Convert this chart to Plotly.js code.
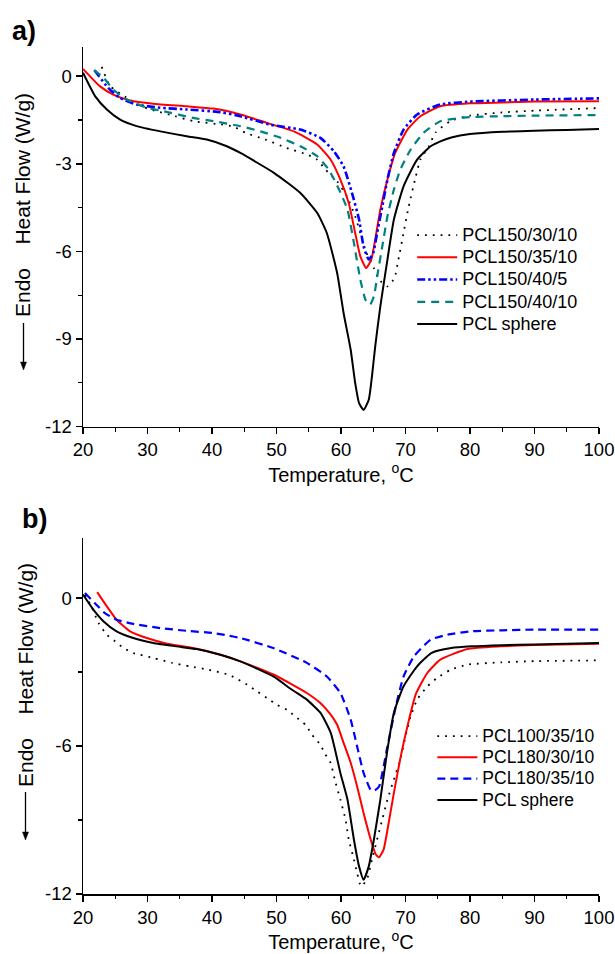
<!DOCTYPE html>
<html>
<head>
<meta charset="utf-8">
<script src="https://cdn.plot.ly/plotly-3.0.1.min.js"></script>
<style>
html,body{margin:0;padding:0;background:#fff;}
#chart{width:615px;height:954px;}
</style>
</head>
<body>
<div id="chart"></div>
<script>
// ---------- Panel a data ----------
const aNames = ['PCL150/30/10', 'PCL150/35/10', 'PCL150/40/5', 'PCL150/40/10', 'PCL sphere'];

const a1_x = [22.9, 24.2, 26.5, 29.5, 31.4, 34.3, 37.1, 41.7, 43.3, 45.2, 48.3, 51.6, 54.7, 56.3, 57.6, 58.6, 59.4, 60.9, 62.2, 63.3, 63.9, 65.1, 65.9, 67.2, 68.3, 68.9, 69.7, 70.5, 71.6, 72.3, 73.6, 74.7, 77.1, 80, 85, 90, 100];
const a1_y = [0.32, -0.34, -0.7, -1.07, -1.2, -1.37, -1.54, -1.66, -1.72, -1.94, -2.17, -2.46, -2.68, -2.86, -3.2, -3.43, -3.6, -4.11, -4.8, -5.6, -6.03, -6.57, -6.97, -7.2, -6.91, -6.28, -5.36, -4.46, -3.43, -2.86, -2.4, -1.92, -1.52, -1.35, -1.24, -1.18, -1.09];

const a2_x = [20, 22.6, 24.7, 27.3, 30.9, 36.1, 40.2, 44.4, 48.5, 52.7, 56.3, 58.4, 59.9, 61.2, 62.2, 63, 63.9, 64.7, 65.3, 66.1, 67.2, 68.4, 70.3, 72.3, 75.4, 80, 85, 90, 100];
const a2_y = [0.25, -0.34, -0.63, -0.83, -0.94, -1.03, -1.11, -1.31, -1.6, -1.89, -2.34, -2.86, -3.54, -4.34, -5.37, -6.17, -6.57, -6.28, -5.6, -4.57, -3.54, -2.63, -1.83, -1.37, -1.03, -0.93, -0.9, -0.87, -0.86];

const a3_x = [21.8, 23.9, 25.7, 28.3, 32, 36.1, 41.3, 44.4, 49, 53.7, 56.8, 58.9, 60.4, 61.7, 62.8, 63.5, 64.3, 65, 65.6, 66.4, 67.2, 68.2, 69.7, 71.8, 75.4, 80, 90, 100];
const a3_y = [0.2, -0.4, -0.74, -0.97, -1.08, -1.14, -1.23, -1.37, -1.66, -1.83, -2.11, -2.57, -3.09, -4.0, -4.91, -5.83, -6.28, -6.05, -5.37, -4.46, -3.54, -2.63, -1.83, -1.31, -0.97, -0.87, -0.8, -0.76];

const a4_x = [21.7, 23.2, 24.7, 26.8, 29.9, 32.5, 37.1, 40.2, 44.4, 47.5, 50.6, 53.7, 56.3, 58.1, 59.7, 61, 62, 63, 63.8, 64.5, 65.1, 65.7, 66.4, 67.2, 68.2, 69.2, 70.8, 72.8, 75.4, 80, 85, 90, 100];
const a4_y = [0.21, -0.05, -0.46, -0.8, -1.08, -1.2, -1.43, -1.54, -1.71, -1.89, -2.11, -2.4, -2.74, -3.2, -3.88, -4.57, -5.71, -6.97, -7.66, -7.83, -7.54, -6.74, -5.83, -4.8, -3.88, -3.2, -2.51, -1.94, -1.54, -1.4, -1.37, -1.35, -1.33];

const a5_x = [20, 21.9, 23.7, 25.7, 28.3, 32, 36.1, 39.2, 42.3, 44.4, 49.6, 53.7, 56.3, 57.8, 59.4, 60.4, 61.5, 62.2, 62.8, 63.5, 64.3, 64.8, 65.3, 66.1, 67.2, 68.2, 69.7, 71.8, 73.9, 75.4, 77.1, 80, 85, 90, 95, 100];
const a5_y = [0.12, -0.69, -1.14, -1.48, -1.71, -1.89, -2.06, -2.17, -2.4, -2.63, -3.31, -4.0, -4.68, -5.37, -6.74, -8.11, -9.37, -10.51, -11.2, -11.43, -11.08, -10.28, -9.26, -7.88, -6.28, -4.91, -3.77, -2.86, -2.4, -2.23, -2.1, -1.98, -1.9, -1.87, -1.84, -1.81];

// ---------- Panel b data ----------
const bNames = ['PCL100/35/10', 'PCL180/30/10', 'PCL180/35/10', 'PCL sphere'];

const b1_x = [20.3, 21.3, 22.4, 23.7, 25, 26.3, 27.8, 30.9, 33.8, 36.6, 39.5, 42.6, 44.1, 45.4, 47, 48.5, 50.1, 51.6, 52.9, 54.5, 55.5, 56.8, 57.6, 58.4, 59.1, 59.9, 60.7, 61.2, 62, 62.5, 63.1, 64, 64.8, 65.6, 66.4, 67.2, 68.2, 69.2, 70, 70.8, 71.8, 73.4, 74.9, 77, 79.6, 84.8, 90, 100];
const b1_y = [0.13, -0.34, -1.01, -1.49, -1.76, -2.03, -2.23, -2.43, -2.63, -2.77, -2.91, -3.11, -3.31, -3.51, -3.79, -4.05, -4.33, -4.53, -4.8, -5.14, -5.54, -5.95, -6.35, -6.69, -7.43, -8.17, -8.98, -9.79, -10.6, -11.15, -11.69, -11.42, -10.6, -9.79, -8.98, -8.17, -7.36, -6.55, -5.61, -4.8, -4.12, -3.58, -3.24, -2.91, -2.7, -2.61, -2.56, -2.53];

const b2_x = [22.2, 23.7, 25.2, 27.3, 29.9, 33, 37.1, 41.3, 44.4, 49.6, 54.7, 56.8, 58.4, 59.4, 60.4, 61.5, 62.5, 63.5, 64.6, 65.4, 65.9, 66.6, 67.4, 68.2, 69.2, 70.3, 71.6, 73.4, 75.4, 79.6, 84.8, 90, 100];
const b2_y = [0.24, -0.34, -0.88, -1.35, -1.62, -1.85, -2.03, -2.3, -2.57, -3.11, -3.85, -4.26, -4.73, -5.14, -5.87, -6.68, -7.64, -8.72, -9.79, -10.4, -10.51, -10.2, -9.1, -7.9, -6.5, -5.2, -3.9, -3.03, -2.5, -2.07, -1.96, -1.9, -1.85];

const b3_x = [20.3, 21.8, 23.4, 25.2, 27.8, 32, 36.1, 40.2, 43.3, 44.4, 49.5, 54.7, 57.8, 59.9, 61.5, 62.5, 63.5, 64.6, 65.2, 65.9, 67.2, 68.5, 69.7, 71.3, 73.9, 76.5, 80.2, 85, 90, 100];
const b3_y = [0.2, -0.2, -0.61, -0.88, -1.05, -1.22, -1.33, -1.42, -1.56, -1.62, -2.03, -2.63, -3.18, -3.85, -4.93, -6.02, -7.09, -7.77, -7.8, -7.64, -6.02, -4.39, -3.18, -2.37, -1.69, -1.49, -1.35, -1.31, -1.28, -1.28];

const b4_x = [20, 21.6, 23.2, 25.2, 27.8, 30.9, 34.5, 37.6, 41.3, 44.4, 49.5, 52.4, 54.7, 56.8, 58.4, 59.9, 61, 62, 62.8, 63.5, 64.3, 65.1, 66.1, 67.2, 68.2, 69.7, 71.8, 74, 77.1, 80.2, 85, 90, 100];
const b4_y = [0.14, -0.47, -0.95, -1.35, -1.62, -1.82, -1.96, -2.07, -2.3, -2.57, -3.18, -3.72, -4.12, -4.65, -5.46, -7.09, -8.17, -9.79, -10.88, -11.42, -10.88, -9.79, -8.17, -6.15, -4.65, -3.58, -2.77, -2.23, -2.03, -1.96, -1.91, -1.88, -1.82];

// ---------- Tick labels ----------
const xTickVals = [20, 30, 40, 50, 60, 70, 80, 90, 100];
const xTickText = ['20', '30', '40', '50', '60', '70', '80', '90', '100'];
const yTickValsA = [0, -3, -6, -9, -12];
const yTickTextA = ['0', '-3', '-6', '-9', '-12'];
const yTickValsB = [0, -6, -12];
const yTickTextB = ['0', '-6', '-12'];

const FONT = 'Arial, "Liberation Sans", sans-serif';
const SM = 0.5;

function tr(x, y, name, color, width, dash, xa, ya, leg, fs) {
  return {
    x: x, y: y, name: '<span style="font-size:' + fs + 'px">' + name + '</span>',
    type: 'scatter', mode: 'lines',
    line: {color: color, width: width, dash: dash, shape: 'spline', smoothing: SM},
    xaxis: xa, yaxis: ya, legend: leg
  };
}

const traces = [
  tr(a1_x, a1_y, aNames[0], '#000000', 1.8, '1.8px,6px', 'x', 'y', 'legend', 18),
  tr(a2_x, a2_y, aNames[1], '#ff0000', 2, 'solid', 'x', 'y', 'legend', 18),
  tr(a3_x, a3_y, aNames[2], '#0000ff', 2.6, '8px,3px,2.5px,3px,2.5px,3px', 'x', 'y', 'legend', 18),
  tr(a4_x, a4_y, aNames[3], '#008080', 2.2, '8px,6px', 'x', 'y', 'legend', 18),
  tr(a5_x, a5_y, aNames[4], '#000000', 2, 'solid', 'x', 'y', 'legend', 18),
  tr(b1_x, b1_y, bNames[0], '#000000', 1.8, '1.8px,6px', 'x2', 'y2', 'legend2', 17.5),
  tr(b2_x, b2_y, bNames[1], '#ff0000', 2, 'solid', 'x2', 'y2', 'legend2', 17.5),
  tr(b3_x, b3_y, bNames[2], '#0000ff', 2.2, '8px,5px', 'x2', 'y2', 'legend2', 17.5),
  tr(b4_x, b4_y, bNames[3], '#000000', 2, 'solid', 'x2', 'y2', 'legend2', 17.5)
];

function xAxis(anchor) {
  return {
    anchor: anchor, domain: [0, 1], range: [20, 100],
    tickmode: 'array', tickvals: xTickVals, ticktext: xTickText,
    ticks: 'outside', ticklen: 6, tickwidth: 1.5, tickcolor: '#000',
    showline: true, linecolor: '#000', linewidth: 1.5,
    showgrid: false, zeroline: false,
    tickfont: {family: FONT, size: 18.5, color: '#000'},
    minor: {tickmode: 'linear', tick0: 20, dtick: 5, ticks: 'outside', ticklen: 3.5, tickwidth: 1.2, tickcolor: '#000', showgrid: false},
    title: {text: 'Temperature, <sup>o</sup>C', font: {family: FONT, size: 20, color: '#000'}, standoff: 5}
  };
}
function yAxis(anchor, domain, range, tv, tt, mdt) {
  return {
    anchor: anchor, domain: domain, range: range,
    tickmode: 'array', tickvals: tv, ticktext: tt,
    ticks: 'outside', ticklen: 6, tickwidth: 1.5, tickcolor: '#000',
    showline: true, linecolor: '#000', linewidth: 1.5,
    showgrid: false, zeroline: false,
    tickfont: {family: FONT, size: 18.5, color: '#000'},
    minor: {tickmode: 'linear', tick0: 0, dtick: mdt, ticks: 'outside', ticklen: 3.5, tickwidth: 1.2, tickcolor: '#000', showgrid: false}
  };
}

const legendCommon = {
  bgcolor: 'rgba(0,0,0,0)', borderwidth: 0,
  itemwidth: 40, tracegroupgap: 0, traceorder: 'normal',
  xanchor: 'left', yanchor: 'top'
};

// pixel -> paper helpers for the decorative y-title arrows
const PL = 83, PW = 516, PB = 894, PH = 847;
const px = v => (v - PL) / PW;
const py = v => (PB - v) / PH;
function arrowShapes(xp, tail, head) {
  return [
    {type: 'line', xref: 'paper', yref: 'paper', x0: px(xp), x1: px(xp), y0: py(tail), y1: py(head - 4), line: {color: '#000', width: 1.3}},
    {type: 'path', xref: 'paper', yref: 'paper', fillcolor: '#000', line: {color: '#000', width: 0.5},
     path: 'M' + px(xp - 3) + ',' + py(head - 8) + ' L' + px(xp + 3) + ',' + py(head - 8) + ' L' + px(xp) + ',' + py(head) + ' Z'}
  ];
}

const layout = {
  width: 615, height: 954,
  margin: {l: 83, r: 16, t: 47, b: 60},
  paper_bgcolor: '#fff', plot_bgcolor: '#fff',
  font: {family: FONT, color: '#000'},
  showlegend: true,
  xaxis: xAxis('y'),
  yaxis: yAxis('x', [0.5519, 1], [-12, 1], yTickValsA, yTickTextA, 1.5),
  xaxis2: xAxis('y2'),
  yaxis2: yAxis('x2', [0, 0.4205], [-12, 2.44], yTickValsB, yTickTextB, 3),
  legend: Object.assign({}, legendCommon, {x: 0.638, y: 0.797, font: {family: FONT, size: 14.8, color: '#000'}}),
  legend2: Object.assign({}, legendCommon, {x: 0.677, y: 0.205, font: {family: FONT, size: 14.1, color: '#000'}}),
  shapes: arrowShapes(23.5, 323, 370).concat(arrowShapes(25.5, 792, 840)),
  annotations: [
    {text: '<b>a)</b>', xref: 'paper', yref: 'paper', x: px(24), y: py(31), xanchor: 'center', yanchor: 'middle', showarrow: false, font: {family: FONT, size: 27, color: '#000'}},
    {text: '<b>b)</b>', xref: 'paper', yref: 'paper', x: px(34), y: py(519), xanchor: 'center', yanchor: 'middle', showarrow: false, font: {family: FONT, size: 27, color: '#000'}},
    {text: 'Endo\u00a0\u00a0\u00a0\u00a0Heat Flow (W/g)', xref: 'paper', yref: 'paper', x: px(23), y: py(205), xanchor: 'center', yanchor: 'middle', textangle: -90, showarrow: false, font: {family: FONT, size: 21, color: '#000'}},
    {text: 'Endo\u00a0\u00a0\u00a0\u00a0Heat Flow (W/g)', xref: 'paper', yref: 'paper', x: px(25), y: py(675), xanchor: 'center', yanchor: 'middle', textangle: -90, showarrow: false, font: {family: FONT, size: 21, color: '#000'}}
  ]
};

Plotly.newPlot('chart', traces, layout, {displayModeBar: false, staticPlot: true});
</script>
</body>
</html>
